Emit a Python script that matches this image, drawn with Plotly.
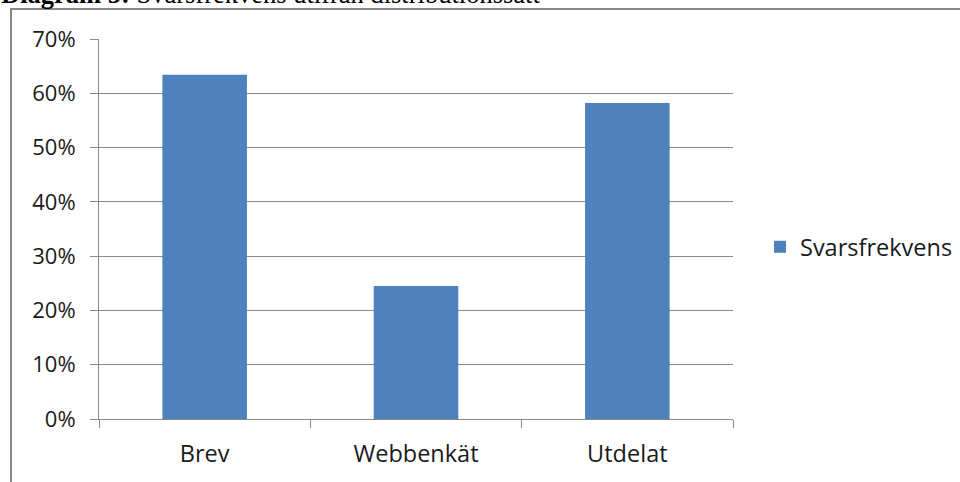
import plotly.graph_objects as go

categories = ["Brev", "Webbenkät", "Utdelat"]
values = [0.634, 0.245, 0.582]
series_name = "Svarsfrekvens"
y_ticks = [0, 0.1, 0.2, 0.3, 0.4, 0.5, 0.6, 0.7]
y_ticklabels = ["0%", "10%", "20%", "30%", "40%", "50%", "60%", "70%"]
caption = "<b>Diagram 5:</b> Svarsfrekvens utifrån distributionssätt"

L, R, T, B = 99, 733, 39, 419
W, H = 960, 482

def px(x):
    return (x - L) / (R - L)

def py(y):
    return (B - y) / (B - T)

fig = go.Figure()
fig.add_trace(go.Bar(x=categories, y=values, name=series_name,
                     marker=dict(color="#4F81BD", line=dict(width=0)),
                     showlegend=True))

font = "Open Sans, Liberation Sans, sans-serif"
txt = "#1a1a1a"
fig.update_layout(
    width=W, height=H,
    margin=dict(l=L, r=W - R, t=T, b=H - B, pad=0, autoexpand=False),
    paper_bgcolor="white", plot_bgcolor="white",
    bargap=0.6,
    showlegend=True,
    legend=dict(x=px(760), y=py(247), xanchor="left", yanchor="middle",
                font=dict(family=font, size=23.5, color=txt),
                itemwidth=30, bgcolor="rgba(0,0,0,0)"),
    xaxis=dict(showline=True, linecolor="#888", linewidth=1,
               ticks="outside", tickson="boundaries", ticklen=8, tickcolor="#888",
               tickfont=dict(family=font, size=23.5, color=txt),
               ticklabelstandoff=14,
               showgrid=False),
    yaxis=dict(range=[0, 0.7], tickvals=y_ticks, ticktext=y_ticklabels,
               showline=True, linecolor="#888", linewidth=1,
               ticks="outside", ticklen=8, tickcolor="#888",
               tickfont=dict(family=font, size=22, color=txt),
               ticklabelstandoff=10,
               showgrid=True, gridcolor="#888", gridwidth=1, zeroline=False),
)

# outer frame of the chart object (partial, as in the cropped reference)
fig.add_shape(type="line", xref="paper", yref="paper",
              x0=px(10), x1=px(960), y0=py(9), y1=py(9),
              line=dict(color="#888", width=2))
fig.add_shape(type="line", xref="paper", yref="paper",
              x0=px(11), x1=px(11), y0=py(9), y1=py(482),
              line=dict(color="#888", width=2))

# cropped caption above
fig.add_annotation(xref="paper", yref="paper", x=px(-1), y=py(11),
                   xanchor="left", yanchor="bottom", showarrow=False,
                   text=caption,
                   font=dict(family="Liberation Serif, serif", size=26.5, color="#000"))

fig.write_html("out.html", config={"displayModeBar": False},
               post_script="document.body.style.margin='0';document.body.style.padding='0';")
